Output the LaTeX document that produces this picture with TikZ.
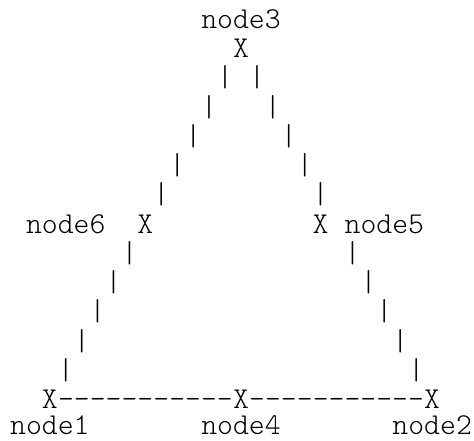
\documentclass[tikz,border=0pt]{standalone}
\usepackage{fontspec}
\newfontfamily\asciimono{Latin Modern Mono Light}
\tikzset{
  chr/.style={anchor=base, inner sep=0pt, outer sep=0pt, text=black,
    font=\asciimono\fontsize{22.7pt}{26pt}\selectfont},
}
\newcommand\colx[1]{18+15.93*(#1)}
\newcommand\rowy[1]{-(28.3+29.25*((#1)-1))}
\begin{document}
\begin{tikzpicture}[x=0.75pt,y=0.75pt]
\useasboundingbox (0,0) rectangle (474,-440);
% labels
\node[chr] (l3) at ({\colx{14}},{\rowy{1}}) {node3};
\node[chr] (l6) at ({\colx{3}},{\rowy{8}}) {node6};
\node[chr] (l5) at ({\colx{23}},{\rowy{8}}) {node5};
\node[chr] (l1) at ({\colx{2}},{-434.5}) {node1};
\node[chr] (l4) at ({\colx{14}},{-434.5}) {node4};
\node[chr] (l2) at ({\colx{26}},{-434.5}) {node2};
% vertices
\node[chr] (n3) at ({\colx{14}},{\rowy{2}}) {X};
\node[chr] (n6) at ({\colx{8}},{\rowy{8}}) {X};
\node[chr] (n5) at ({\colx{19}},{\rowy{8}}) {X};
\node[chr] (n1) at ({\colx{2}},{\rowy{14}}) {X};
\node[chr] (n4) at ({\colx{14}},{\rowy{14}}) {X};
\node[chr] (n2) at ({\colx{26}},{\rowy{14}}) {X};
% edges n3 - n6 and n3 - n5
\foreach \k in {1,...,5}{
  \node[chr] (a\k) at ({\colx{14-\k}},{\rowy{2+\k}}) {|};
  \node[chr] (b\k) at ({\colx{14+\k}},{\rowy{2+\k}}) {|};
}
% edges n6 - n1 and n5 - n2
\foreach \k in {1,...,5}{
  \node[chr] (c\k) at ({\colx{8-\k}},{\rowy{8+\k}}) {|};
  \node[chr] (d\k) at ({\colx{20+\k}},{\rowy{8+\k}}) {|};
}
% edges n1 - n4 - n2
\path (n1.base) -- (n4.base) node[chr, pos=0.5] (e1) {-----------};
\path (n4.base) -- (n2.base) node[chr, pos=0.5] (e2) {-----------};
\end{tikzpicture}
\end{document}
